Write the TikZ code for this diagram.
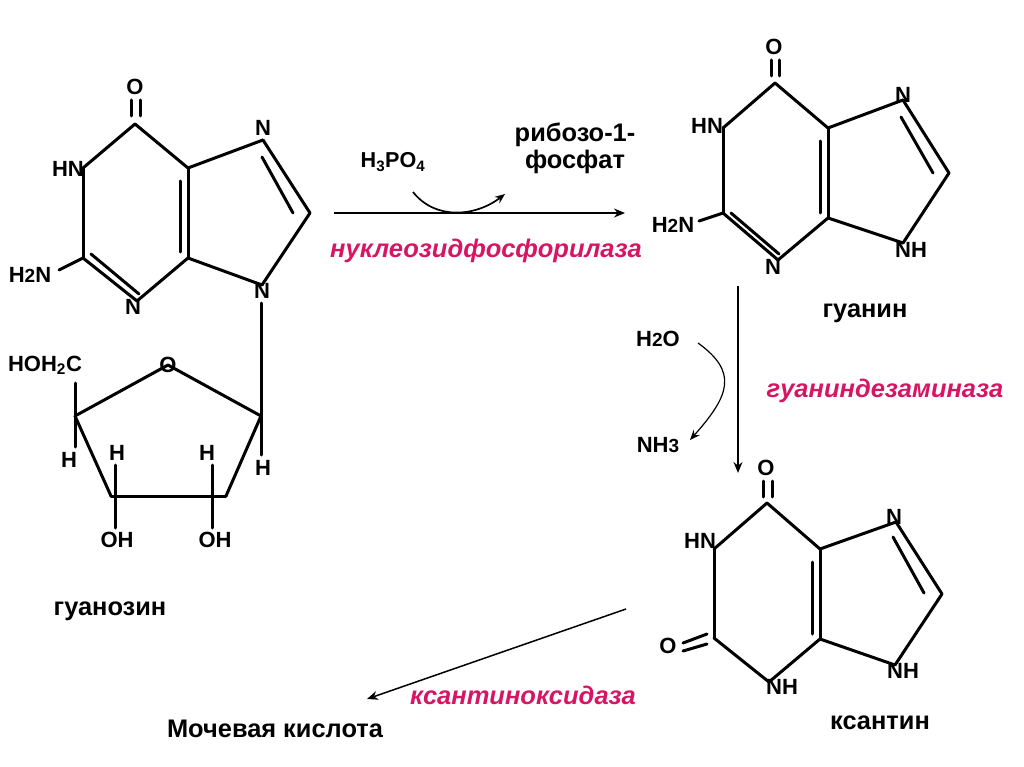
\documentclass[tikz,border=0pt]{standalone}
\usepackage{fontspec}
\setmainfont{Liberation Sans}
\usetikzlibrary{arrows.meta}
\definecolor{enzymecol}{RGB}{214,22,100}
\newcommand{\lowd}[1]{{\fontsize{19}{19}\selectfont #1}}
\tikzset{
  atom/.style={font=\bfseries\fontsize{22}{26}\selectfont,inner sep=0pt,anchor=base},
  title/.style={font=\bfseries\fontsize{25.4}{30}\selectfont,inner sep=0pt,anchor=base},
  enzyme/.style={font=\bfseries\itshape\fontsize{25.5}{30}\selectfont,text=enzymecol,inner sep=0pt,anchor=base},
  bond/.style={line width=3pt,line cap=round,line join=round},
  reaction/.style={line width=1.5pt,-{Stealth[length=11pt,width=9pt]}},
  side/.style={line width=1.2pt,-{Stealth[length=10pt,width=8pt]}}
}
\begin{document}
\begin{tikzpicture}[x=1pt,y=-1pt]
   \useasboundingbox (0,0) rectangle (1024,767);
   % guanosine, purine part
   \coordinate (a_c6) at (135,124);
   \coordinate (a_n1) at (83,168);
   \coordinate (a_c2) at (83,258);
   \coordinate (a_n3) at (137,301);
   \coordinate (a_c4) at (188,258);
   \coordinate (a_c5) at (188,168);
   \coordinate (a_n7) at (263,140);
   \coordinate (a_c8) at (310,213);
   \coordinate (a_n9) at (262,285);
   \coordinate (a_o1) at (131,100);
   \coordinate (a_o2) at (140,100);
   \coordinate (a_c61) at (131,116);
   \coordinate (a_c62) at (140,116);
   \coordinate (a_d1) at (180,181);
   \coordinate (a_d2) at (180,252);
   \coordinate (a_d3) at (262,157);
   \coordinate (a_d4) at (293,213);
   \coordinate (a_d5) at (91,254);
   \coordinate (a_d6) at (139,294);
   \coordinate (a_nh) at (59,270);
   \coordinate (a_tail) at (261,303);
   \node[atom] (a_O) at (135,95) {O};
   \node[atom] (a_HN) at (68,177) {HN};
   \node[atom] (a_N7) at (263,136) {N};
   \node[atom] (a_H2N) at (30,282) {H\lowd{2}N};
   \node[atom] (a_N3) at (133,314) {N};
   \node[atom] (a_N9) at (262,298) {N};
   \path[bond]
    (a_c6) edge (a_n1)
    (a_n1) edge (a_c2)
    (a_c2) edge (a_n3)
    (a_n3) edge (a_c4)
    (a_c4) edge (a_c5)
    (a_c5) edge (a_c6)
    (a_c5) edge (a_n7)
    (a_n7) edge (a_c8)
    (a_c8) edge (a_n9)
    (a_n9) edge (a_c4)
    (a_o1) edge (a_c61)
    (a_o2) edge (a_c62)
    (a_d1) edge (a_d2)
    (a_d3) edge (a_d4)
    (a_d5) edge (a_d6)
    (a_nh) edge (a_c2);
   % ribose
   \coordinate (r_o) at (168,365);
   \coordinate (r_c1) at (261,416);
   \coordinate (r_c2) at (226,496);
   \coordinate (r_c3) at (111,496);
   \coordinate (r_c4) at (75,416);
   \coordinate (r_up) at (75,383);
   \coordinate (r_h4) at (75,447);
   \coordinate (r_h1) at (261,455);
   \coordinate (r_t3) at (115,465);
   \coordinate (r_b3) at (115,528);
   \coordinate (r_t2) at (212,465);
   \coordinate (r_b2) at (212,528);
   \node[atom] (r_O) at (168,372) {O};
   \node[atom] (r_HOH) at (45,371) {HOH\textsubscript{2}C};
   \node[atom] (r_H4) at (69,467) {H};
   \node[atom] (r_H3) at (117,460) {H};
   \node[atom] (r_H2) at (207,460) {H};
   \node[atom] (r_H1) at (263,475) {H};
   \node[atom] (r_OH3) at (117,547) {OH};
   \node[atom] (r_OH2) at (215,547) {OH};
   \path[bond]
    (r_o) edge (r_c1)
    (r_c1) edge (r_c2)
    (r_c2) edge (r_c3)
    (r_c3) edge (r_c4)
    (r_c4) edge (r_o)
    (r_c4) edge (r_up)
    (r_c4) edge (r_h4)
    (r_c1) edge (r_h1)
    (r_t3) edge (r_b3)
    (r_t2) edge (r_b2)
    (a_tail) edge (r_c1);
   \node[title] (name_a) at (110,615) {гуанозин};
   % guanine
   \coordinate (b_c6) at (775,83);
   \coordinate (b_n1) at (723,128);
   \coordinate (b_c2) at (723,213);
   \coordinate (b_n3) at (778,260);
   \coordinate (b_c4) at (828,218);
   \coordinate (b_c5) at (828,128);
   \coordinate (b_n7) at (903,100);
   \coordinate (b_c8) at (949,173);
   \coordinate (b_n9) at (903,243);
   \coordinate (b_o1) at (771,60);
   \coordinate (b_o2) at (779,60);
   \coordinate (b_c61) at (771,76);
   \coordinate (b_c62) at (779,76);
   \coordinate (b_d1) at (820,141);
   \coordinate (b_d2) at (820,213);
   \coordinate (b_d3) at (901,117);
   \coordinate (b_d4) at (933,173);
   \coordinate (b_d5) at (731,213);
   \coordinate (b_d6) at (779,254);
   \coordinate (b_nh) at (699,221);
   \node[atom] (b_O) at (774,55) {O};
   \node[atom] (b_HN) at (707,134) {HN};
   \node[atom] (b_N7) at (903,103) {N};
   \node[atom] (b_H2N) at (673,233) {H\lowd{2}N};
   \node[atom] (b_N3) at (773,274) {N};
   \node[atom] (b_NH) at (911,257) {NH};
   \path[bond]
    (b_c6) edge (b_n1)
    (b_n1) edge (b_c2)
    (b_c2) edge (b_n3)
    (b_n3) edge (b_c4)
    (b_c4) edge (b_c5)
    (b_c5) edge (b_c6)
    (b_c5) edge (b_n7)
    (b_n7) edge (b_c8)
    (b_c8) edge (b_n9)
    (b_n9) edge (b_c4)
    (b_o1) edge (b_c61)
    (b_o2) edge (b_c62)
    (b_d1) edge (b_d2)
    (b_d3) edge (b_d4)
    (b_d5) edge (b_d6)
    (b_nh) edge (b_c2);
   \node[title] (name_b) at (865,317) {гуанин};
   % xanthine
   \coordinate (c_c6) at (767,503);
   \coordinate (c_n1) at (714,549);
   \coordinate (c_c2) at (714,638);
   \coordinate (c_n3) at (769,682);
   \coordinate (c_c4) at (820,639);
   \coordinate (c_c5) at (820,549);
   \coordinate (c_n7) at (896,522);
   \coordinate (c_c8) at (942,594);
   \coordinate (c_n9) at (895,665);
   \coordinate (c_o1) at (763,481);
   \coordinate (c_o2) at (772,481);
   \coordinate (c_c61) at (763,497);
   \coordinate (c_c62) at (772,497);
   \coordinate (c_d1) at (812,562);
   \coordinate (c_d2) at (812,634);
   \coordinate (c_d3) at (893,537);
   \coordinate (c_d4) at (924,593);
   \coordinate (c_e1) at (683,643);
   \coordinate (c_e2) at (707,634);
   \coordinate (c_e3) at (683,651);
   \coordinate (c_e4) at (707,644);
   \node[atom] (c_O) at (766,475) {O};
   \node[atom] (c_HN) at (700,548) {HN};
   \node[atom] (c_N7) at (894,524) {N};
   \node[atom] (c_O2) at (668,653) {O};
   \node[atom] (c_NH3) at (782,694) {NH};
   \node[atom] (c_NH9) at (903,678) {NH};
   \path[bond]
    (c_c6) edge (c_n1)
    (c_n1) edge (c_c2)
    (c_c2) edge (c_n3)
    (c_n3) edge (c_c4)
    (c_c4) edge (c_c5)
    (c_c5) edge (c_c6)
    (c_c5) edge (c_n7)
    (c_n7) edge (c_c8)
    (c_c8) edge (c_n9)
    (c_n9) edge (c_c4)
    (c_o1) edge (c_c61)
    (c_o2) edge (c_c62)
    (c_d1) edge (c_d2)
    (c_d3) edge (c_d4)
    (c_e1) edge (c_e2)
    (c_e3) edge (c_e4);
   \node[title] (name_c) at (880,729) {ксантин};
   % reactions
   \coordinate (ra_start) at (334,213);
   \coordinate (ra_end) at (625,213);
   \coordinate (rs_start) at (413,192);
   \coordinate (rs_end) at (505,194);
   \coordinate (rb_start) at (738,286);
   \coordinate (rb_end) at (738,473);
   \coordinate (ws_start) at (698,343);
   \coordinate (ws_end) at (690,440);
   \coordinate (rc_start) at (626,609);
   \coordinate (rc_end) at (367,699);
   \node[atom,font=\bfseries\fontsize{21.6}{26}\selectfont] (h3po4) at (393,168) {H\textsubscript{3}PO\textsubscript{4}};
   \node[title] (ribose1) at (575,142) {рибозо-1-};
   \node[title] (ribose2) at (575,169) {фосфат};
   \node[enzyme] (enz_a) at (486,258) {нуклеозидфосфорилаза};
   \node[atom] (h2o) at (658,346) {H\lowd{2}O};
   \node[atom] (nh3) at (658,452) {NH\lowd{3}};
   \node[enzyme] (enz_b) at (885,397) {гуаниндезаминаза};
   \node[enzyme] (enz_c) at (523,704) {ксантиноксидаза};
   \node[title] (uric) at (275,737) {Мочевая кислота};
   \path[reaction]
    (ra_start) edge (ra_end)
    (rb_start) edge (rb_end)
    (rc_start) edge (rc_end);
   \draw[side,line width=1.7pt] (rs_start) .. controls (435,220) and (475,217) .. (rs_end);
   \draw[side] (ws_start) .. controls (738,372) and (730,395) .. (ws_end);
\end{tikzpicture}
\end{document}
